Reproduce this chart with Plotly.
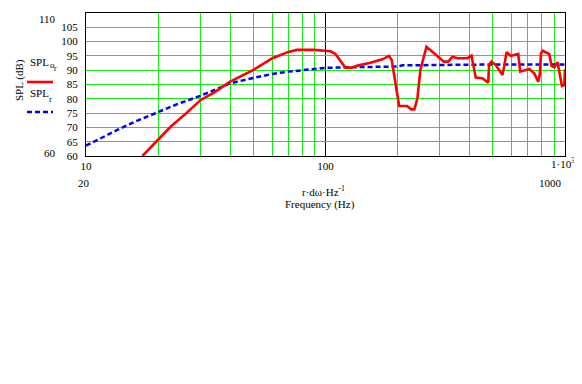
import plotly.graph_objects as go

# ---- data ----
freq_red = [17.2, 20, 22.6, 25.7, 30, 34.1, 40, 50, 60, 70, 76, 90, 100, 105, 110, 115.6, 121,
            129, 136, 154, 173, 184, 189, 194, 203, 219, 228, 235, 242, 249, 264, 284, 303,
            312, 325, 339, 356, 392, 407, 417, 424, 452, 468, 478, 482, 493, 514, 548, 557,
            570, 594, 638, 650, 665, 709, 744, 773, 784, 794, 807, 860, 879, 902, 931, 955,
            971, 993, 1000]
spl_or = [60.0, 65.6, 70.3, 74.3, 79.5, 82.1, 86.0, 90.1, 94.2, 96.4, 97.1, 97.1, 96.8, 96.6,
          95.7, 93.0, 90.9, 90.9, 91.6, 92.6, 93.8, 95.0, 93.6, 87.7, 77.5, 77.5, 76.3, 76.3,
          80.2, 90.1, 98.2, 95.9, 93.9, 93.0, 93.0, 94.7, 94.2, 94.2, 95.1, 91.2, 87.4, 87.2,
          86.3, 85.6, 91.8, 93.0, 91.8, 88.3, 91.2, 96.3, 95.0, 95.7, 89.5, 89.7, 90.4, 88.9,
          86.0, 88.3, 95.9, 96.8, 95.6, 91.5, 91.0, 92.8, 88.3, 84.5, 84.8, 90.3]

freq_blue = [10, 11.5, 13.5, 16, 20, 24, 30, 35, 40, 50, 60, 70, 80, 90, 100, 120, 150, 200,
             210, 250, 300, 500, 1000]
spl_r = [63.6, 66.2, 69.1, 72.0, 75.3, 78.1, 81.0, 83.5, 85.4, 87.3, 88.7, 89.5, 90.0, 90.4,
         90.8, 91.0, 91.2, 91.3, 91.7, 91.8, 91.9, 92.0, 92.0]

x_ticks = [10, 100, 1000]
x_tick_text = ["10", "100", ""]
x_last_label = "1·10<sup>3</sup>"
x_minor = [20, 30, 40, 50, 60, 70, 80, 90, 200, 300, 400, 500, 600, 700, 800, 900]
y_ticks = [60, 65, 70, 75, 80, 85, 90, 95, 100, 105, 110]

GREEN = "#11ee11"
FONT = "Liberation Serif, Times New Roman, serif"

# page has an 8px body margin: figure sits at (8, 8)
OFF = 8
W, H = 582 - OFF, 384 - OFF
# plot area in page pixels
L, R, T, B = 86, 565, 13, 156


def px(x):
    return (x - L) / (R - L)


def py(y):
    return (B - y) / (B - T)


fig = go.Figure()
fig.add_trace(go.Scatter(x=freq_blue, y=spl_r, mode="lines",
                         line=dict(color="#0000ff", width=2.5, dash="5px,3px"),
                         showlegend=False))
fig.add_trace(go.Scatter(x=freq_red, y=spl_or, mode="lines",
                         line=dict(color="#ff0000", width=2.6),
                         showlegend=False))

fig.update_layout(
    width=W, height=H, autosize=False,
    margin=dict(l=L - OFF, r=582 - R, t=T - OFF, b=384 - B, autoexpand=False),
    paper_bgcolor="white", plot_bgcolor="white",
    font=dict(family=FONT, size=11, color="black"),
    xaxis=dict(type="log", range=[1, 3], tickmode="array", tickvals=x_ticks,
               ticktext=x_tick_text, showgrid=True, gridcolor="black", gridwidth=1,
               minor=dict(tickmode="array", tickvals=x_minor, showgrid=True,
                          gridcolor=GREEN, gridwidth=1, ticks=""),
               showline=True, linecolor="black", linewidth=1, mirror=True,
               ticks="", zeroline=False, ticklabelstandoff=0, automargin=False,
               tickfont=dict(family=FONT, size=11)),
    yaxis=dict(range=[60, 110], tickmode="array", tickvals=y_ticks,
               showgrid=True, gridcolor=GREEN, gridwidth=1,
               showline=True, linecolor="black", linewidth=1, mirror=True,
               ticks="", zeroline=False, automargin=False, ticklabelstandoff=5,
               tickfont=dict(family=FONT, size=11)),
)

ann = []


def text(x, y, s, size=11, xanchor="center", yanchor="middle", angle=0):
    ann.append(dict(x=px(x), y=py(y), xref="paper", yref="paper", text=s, showarrow=False,
                    font=dict(family=FONT, size=size, color="black"),
                    xanchor=xanchor, yanchor=yanchor, textangle=angle, borderpad=0))


text(57, 19, "110", xanchor="right")
text(57, 153, "60", xanchor="right")
text(77, 183, "20", xanchor="left")
text(563, 183, "1000", xanchor="right")
text(576, 163, x_last_label, xanchor="right")
text(19, 80, "SPL (dB)", angle=-90)
text(29, 62, "SPL", xanchor="left")
text(49, 65, "o", size=9, xanchor="left")
text(53, 69, "r", size=8, xanchor="left")
text(29, 93, "SPL", xanchor="left")
text(48, 99, "r", size=9, xanchor="left")
text(323, 191, "r·dω·Hz<sup>-1</sup>")
text(320, 204, "Frequency (Hz)")
fig.update_layout(annotations=ann)

fig.add_shape(type="line", xref="paper", yref="paper", x0=px(27), x1=px(53), y0=py(82), y1=py(82),
              line=dict(color="#ff0000", width=2.6))
fig.add_shape(type="line", xref="paper", yref="paper", x0=px(27), x1=px(53), y0=py(112), y1=py(112),
              line=dict(color="#0000ff", width=2.5, dash="5px,3px"))

fig.write_html("out.html")
